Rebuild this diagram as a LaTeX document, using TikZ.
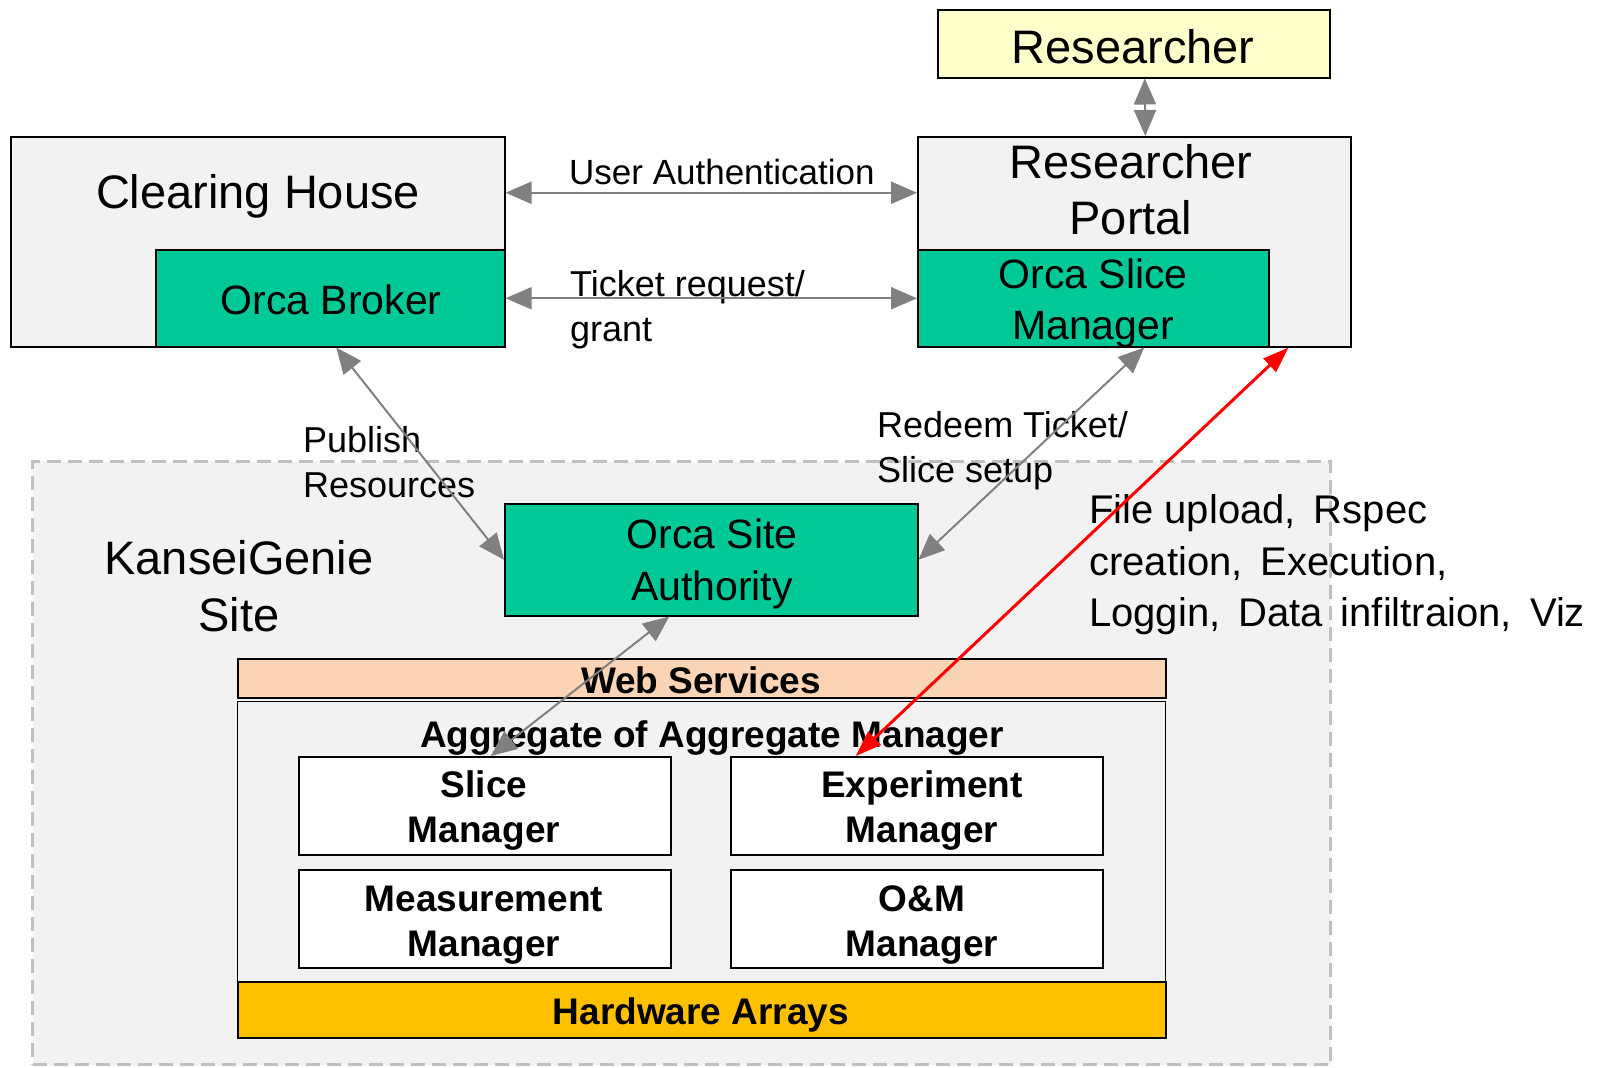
\documentclass[tikz,border=0pt]{standalone}
\usepackage{fontspec}
\setmainfont{Liberation Sans}
\usetikzlibrary{arrows.meta}
\definecolor{grn}{RGB}{0,200,150}
\definecolor{lgray}{RGB}{242,242,242}
\definecolor{ylw}{RGB}{255,255,204}
\definecolor{peach}{RGB}{250,212,180}
\definecolor{gold}{RGB}{255,192,0}
\definecolor{agray}{RGB}{128,128,128}
\definecolor{dgray}{RGB}{191,191,191}
\newcommand\fs[2]{\fontsize{#1bp}{#2bp}\selectfont}
\tikzset{
  box/.style={draw=black, line width=1.5bp, inner sep=0pt, anchor=north west},
  txt/.style={inner sep=0pt, align=center},
  ltxt/.style={inner sep=0pt, align=left, anchor=west},
  garrow/.style={draw=agray, line width=2bp, {Triangle[length=26bp,width=22bp]}-{Triangle[length=26bp,width=22bp]}},
  rarrow/.style={draw=red, line width=3bp, {Triangle[length=26bp,width=18bp]}-{Triangle[length=26bp,width=18bp]}},
}
\begin{document}
\begin{tikzpicture}[x=1bp,y=-1bp]
\useasboundingbox (0,0) rectangle (1606,1067);
% site background
\node[anchor=north west, inner sep=0pt, fill=lgray, draw=dgray, dash pattern=on 14bp off 7bp, line width=3bp, minimum width=1298bp, minimum height=603bp] (site) at (31,460) {};
% top boxes
\node[box, fill=ylw, minimum width=392bp, minimum height=68bp] (res) at (937,9) {};
\node[box, fill=lgray, minimum width=494bp, minimum height=210bp] (ch) at (10,136) {};
\node[box, fill=grn, minimum width=349bp, minimum height=97bp] (broker) at (155,249) {};
\node[box, fill=lgray, minimum width=433bp, minimum height=210bp] (portal) at (917,136) {};
\node[box, fill=grn, minimum width=351bp, minimum height=97bp] (osm) at (917,249) {};
% site boxes
\node[box, fill=grn, minimum width=413bp, minimum height=112bp] (osa) at (504,503) {};
\node[box, fill=peach, minimum width=928bp, minimum height=39bp] (web) at (237,658) {};
\node[box, fill=lgray, line width=1bp, minimum width=928bp, minimum height=280bp] (agg) at (237,701) {};
\node[box, fill=gold, minimum width=928bp, minimum height=56bp] (hw) at (237,981) {};
\node[box, fill=white, minimum width=372bp, minimum height=98bp] (slm) at (298,756) {};
\node[box, fill=white, minimum width=372bp, minimum height=98bp] (exp) at (730,756) {};
\node[box, fill=white, minimum width=372bp, minimum height=98bp] (mm) at (298,869) {};
\node[box, fill=white, minimum width=372bp, minimum height=98bp] (om) at (730,869) {};
% texts
\node[txt, font=\fs{47}{52}] (tres) at (1133,47) {Researcher};
\node[txt, font=\fs{47}{52}] (tch) at (258,196) {Clearing House};
\node[txt, font=\fs{47}{56}] (tportal) at (1131,190) {Researcher\\Portal};
\node[txt, font=\fs{41}{46}] (tbroker) at (331,300) {Orca Broker};
\node[txt, font=\fs{41}{51}] (tosm) at (1093,303) {Orca Slice\\Manager};
\node[txt, font=\fs{41}{52}] (tosa) at (712,564) {Orca Site\\Authority};
\node[txt, font=\fs{47}{57}] (tks) at (239,586) {KanseiGenie\\Site};
\node[ltxt, font=\fs{35}{40}] (tua) at (569,172) {User Authentication};
\node[ltxt, font=\fs{36}{45}] (ttr) at (570,310) {Ticket request/\\grant};
\node[ltxt, font=\fs{36}{45}] (tpr) at (303,462) {Publish\\Resources};
\node[ltxt, font=\fs{36}{45}] (trt) at (877,451) {Redeem Ticket/\\Slice setup};
\node[ltxt, font=\fs{40}{51.5}] (tfu) at (1089,565) {File upload,\hspace{0.45em}Rspec\\creation,\hspace{0.45em}Execution,\\Loggin,\hspace{0.45em}Data\hspace{0.45em}infiltraion,\hspace{0.45em}Viz};
\node[txt, font=\fs{37}{42}\bfseries] (tweb) at (701,680) {Web Services};
\node[txt, font=\fs{37}{42}\bfseries] (tagg) at (712,738) {Aggregate of Aggregate Manager};
\node[txt, font=\fs{37}{45}\bfseries] (tslm) at (484,811) {Slice\\Manager};
\node[txt, font=\fs{37}{45}\bfseries] (texp) at (922,811) {Experiment\\Manager};
\node[txt, font=\fs{37}{45}\bfseries] (tmm) at (484,925) {Measurement\\Manager};
\node[txt, font=\fs{37}{45}\bfseries] (tom) at (922,925) {O\&M\\Manager};
\node[txt, font=\fs{37}{42}\bfseries] (thw) at (701,1015) {Hardware Arrays};
% arrows
\draw[garrow] ([yshift=49bp]ch.east) -- ([yshift=49bp]portal.west);
\draw[garrow] (broker.east) -- (osm.west);
\draw[garrow] ([xshift=11bp]res.south) -- ([xshift=11bp]portal.north);
\draw[garrow] ([xshift=6bp]broker.south) -- (osa.west);
\draw[garrow] ([xshift=51bp]osm.south) -- (osa.east);
\draw[garrow] ([xshift=-42bp]osa.south) -- ([xshift=6bp]slm.north);
\draw[rarrow] ([xshift=-63bp]portal.south east) -- ([xshift=-61bp]exp.north);
\end{tikzpicture}
\end{document}
